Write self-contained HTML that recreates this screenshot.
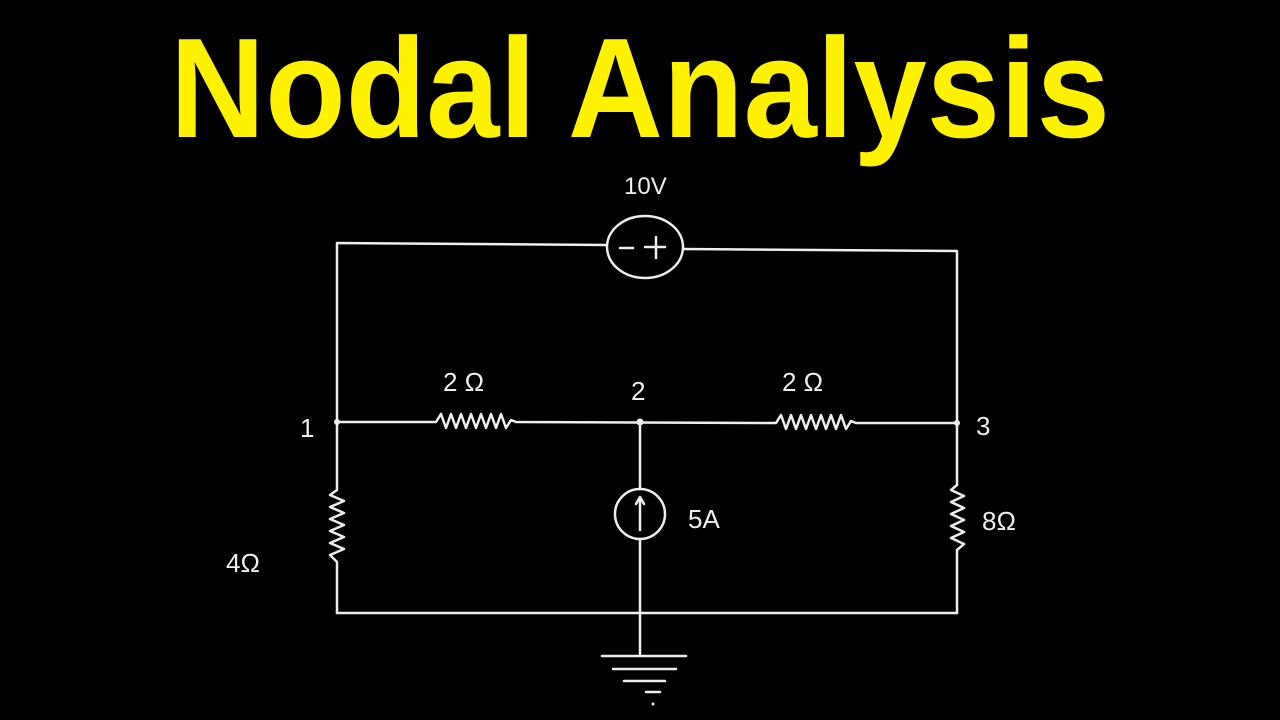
<!DOCTYPE html>
<html><head><meta charset="utf-8"><style>
html,body{margin:0;padding:0;background:#000;width:1280px;height:720px;overflow:hidden}
</style></head><body>
<svg width="1280" height="720" viewBox="0 0 1280 720" xmlns="http://www.w3.org/2000/svg">
<rect width="1280" height="720" fill="#000"/>
<text x="170" y="137" font-family="Liberation Sans, sans-serif" font-weight="bold" font-size="142" fill="#fff200" textLength="940" lengthAdjust="spacingAndGlyphs">Nodal  Analysis</text>
<g stroke="#eee" stroke-width="2.5" fill="none" stroke-linecap="round" stroke-linejoin="round">
<!-- top wire -->
<polyline points="337,422 337,243 607,245"/>
<polyline points="683,249 957,251 957,485"/>
<ellipse cx="645" cy="247" rx="38" ry="31"/>
<line x1="620" y1="248" x2="633" y2="248"/>
<line x1="645" y1="247" x2="665" y2="247"/>
<line x1="656" y1="237" x2="656" y2="258"/>
<!-- middle wire -->
<polyline points="337,422 436,422 441,414 446,428 451,414 456,428 461,414 466,428 471,414 476,428 481,414 486,428 491,414 496,428 501,414 506,428 511,420 516,422 776,423 781,415 786,429 791,415 796,429 801,415 806,429 811,415 816,429 821,415 826,429 831,415 836,429 841,415 846,429 851,421 856,423 957,423"/>
<!-- left vertical with resistor -->
<polyline points="337,422 337,490 330,495 344,501 330,507 344,513 330,519 344,525 330,531 344,537 330,543 344,549 330,555 337,562 337,613"/>
<!-- right vertical resistor -->
<polyline points="957,485 951,490 964,496 951,502 964,508 951,514 964,520 951,526 964,532 951,538 964,544 957,550 957,613"/>
<!-- bottom wire -->
<line x1="337" y1="613" x2="957" y2="613"/>
<!-- middle vertical -->
<line x1="640" y1="422" x2="640" y2="489"/>
<line x1="640" y1="539" x2="640" y2="655"/>
<ellipse cx="640" cy="514" rx="25" ry="25"/>
<line x1="640" y1="530" x2="640" y2="498"/>
<polyline points="636,504 640,497 644,504"/>
<!-- ground -->
<line x1="602" y1="656" x2="686" y2="656"/>
<line x1="613" y1="669" x2="676" y2="669"/>
<line x1="624" y1="681" x2="665" y2="681"/>
<line x1="646" y1="692" x2="660" y2="692"/>
</g>
<circle cx="653" cy="704" r="1.5" fill="#eee"/>
<circle cx="337" cy="422" r="3" fill="#eee"/>
<circle cx="640" cy="422" r="3.5" fill="#eee"/>
<circle cx="957" cy="423" r="3" fill="#eee"/>
<g fill="#eee" font-family="Liberation Sans, DejaVu Sans, sans-serif" font-size="26">
<text x="624" y="194" font-size="24">10V</text>
<text x="443" y="391">2 Ω</text>
<text x="782" y="391">2 Ω</text>
<text x="631" y="400">2</text>
<text x="300" y="437">1</text>
<text x="976" y="435">3</text>
<text x="226" y="572">4Ω</text>
<text x="688" y="528">5A</text>
<text x="982" y="530">8Ω</text>
</g>
</svg>
</body></html>
